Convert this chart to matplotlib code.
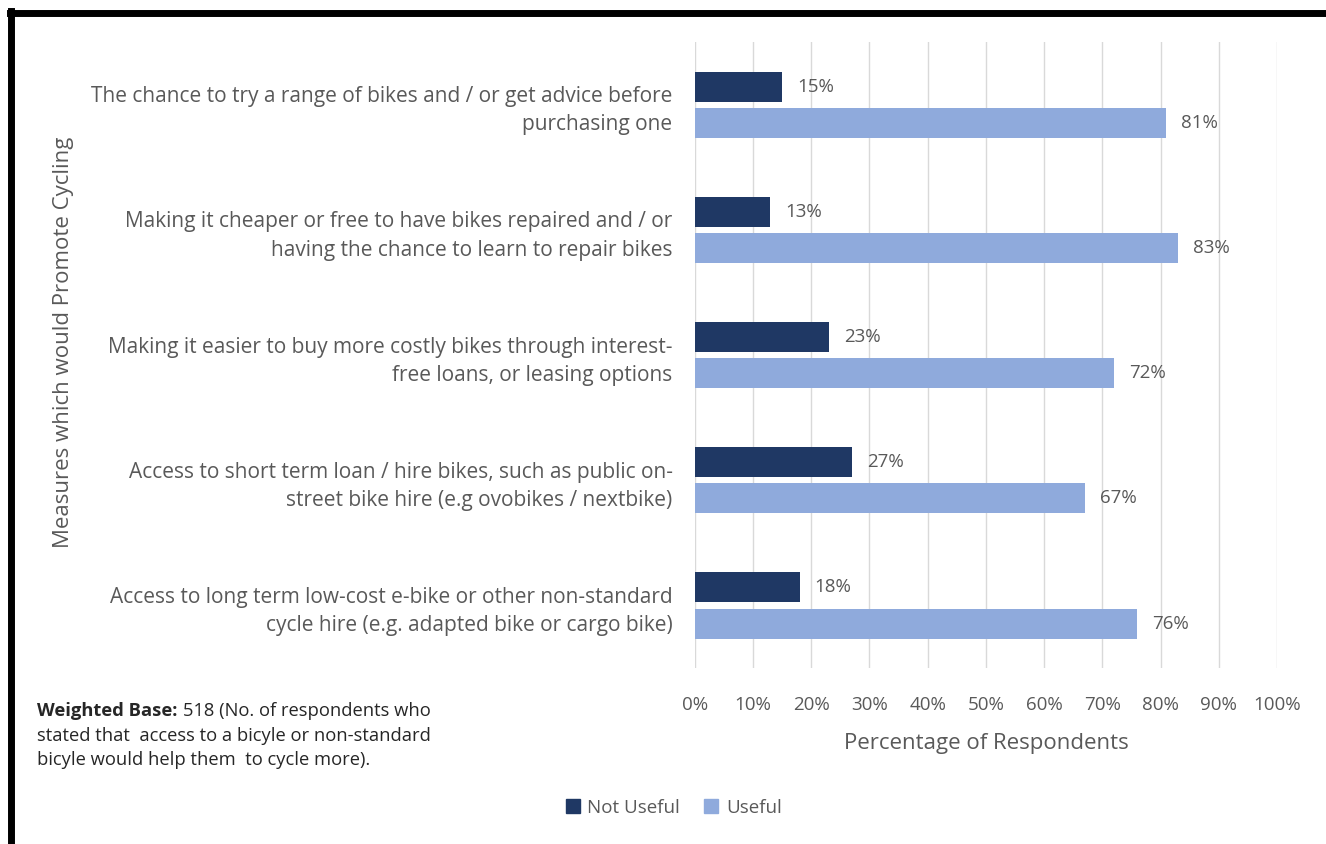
import matplotlib
matplotlib.use("Agg")
import matplotlib.pyplot as plt
import numpy as np
from matplotlib.patches import Rectangle
from matplotlib.lines import Line2D

categories = [
    "The chance to try a range of bikes and / or get advice before\npurchasing one",
    "Making it cheaper or free to have bikes repaired and / or\nhaving the chance to learn to repair bikes",
    "Making it easier to buy more costly bikes through interest-\nfree loans, or leasing options",
    "Access to short term loan / hire bikes, such as public on-\nstreet bike hire (e.g ovobikes / nextbike)",
    "Access to long term low-cost e-bike or other non-standard\ncycle hire (e.g. adapted bike or cargo bike)",
]
not_useful = [15, 13, 23, 27, 18]
useful = [81, 83, 72, 67, 76]
xticks = list(range(0, 101, 10))
xtick_labels = [f"{t}%" for t in xticks]

plt.rcParams['font.family'] = ['Open Sans', 'DejaVu Sans']
TXT = "#595959"
DARK = "#1F3864"
LIGHT = "#8FAADC"

fig = plt.figure(figsize=(13.26, 8.44), dpi=100)
ax = fig.add_axes([0.524, 0.2085, 0.439, 0.7415])

y = np.arange(len(categories))
h = 0.24
off = 0.145
ax.barh(y - off, not_useful, height=h, color=DARK, label="Not Useful", zorder=3)
ax.barh(y + off, useful, height=h, color=LIGHT, label="Useful", zorder=3)

for yi, v in zip(y, not_useful):
    ax.text(v + 2.6, yi - off, f"{v}%", va="center", ha="left", fontsize=13.5, color=TXT)
for yi, v in zip(y, useful):
    ax.text(v + 2.6, yi + off, f"{v}%", va="center", ha="left", fontsize=13.5, color=TXT)

ax.set_xlim(0, 100)
ax.set_ylim(len(categories) - 0.5, -0.5)
ax.set_xticks(xticks)
ax.set_xticklabels(xtick_labels, fontsize=13.5, color=TXT)
ax.set_yticks(y)
ax.set_yticklabels(categories, fontsize=15, color=TXT, ha="right", linespacing=1.45)
ax.tick_params(axis="both", length=0)
ax.tick_params(axis="x", pad=20)
ax.tick_params(axis="y", pad=16)
for s in ax.spines.values():
    s.set_visible(False)
ax.grid(axis="x", color="#D9D9D9", linewidth=1, zorder=0)
ax.set_xlabel("Percentage of Respondents", fontsize=16, color=TXT, labelpad=14)

fig.text(0.048, 0.594, "Measures which would Promote Cycling", rotation=90,
         ha="center", va="center", fontsize=16, color=TXT)

fig.legend(handles=[Rectangle((0, 0), 1, 1, color=DARK), Rectangle((0, 0), 1, 1, color=LIGHT)],
           labels=["Not Useful", "Useful"], loc="center", bbox_to_anchor=(0.508, 0.043),
           ncol=2, frameon=False, fontsize=13.5, labelcolor=TXT,
           handlelength=0.75, handleheight=0.75, handletextpad=0.4, columnspacing=1.3)

# footnote
FS = 13.2
t1 = fig.text(0.028, 0.157, "Weighted Base:", fontsize=FS, fontweight="bold", color="#262626",
              ha="left", va="center")
fig.canvas.draw()
bb = t1.get_window_extent()
x2 = (bb.x1 + 5) / fig.bbox.width
fig.text(x2, 0.157, "518 (No. of respondents who", fontsize=FS, color="#262626", ha="left", va="center")
fig.text(0.028, 0.128, "stated that  access to a bicyle or non-standard", fontsize=FS, color="#262626",
         ha="left", va="center")
fig.text(0.028, 0.099, "bicyle would help them  to cycle more).", fontsize=FS, color="#262626",
         ha="left", va="center")

# border lines (top and left)
fig.add_artist(Line2D([0.0075, 1.0], [0.985, 0.985], color="black", linewidth=5, transform=fig.transFigure))
fig.add_artist(Line2D([0.0085, 0.0085], [0.0, 0.987], color="black", linewidth=5, transform=fig.transFigure))

fig.savefig("out.png", dpi=100)
